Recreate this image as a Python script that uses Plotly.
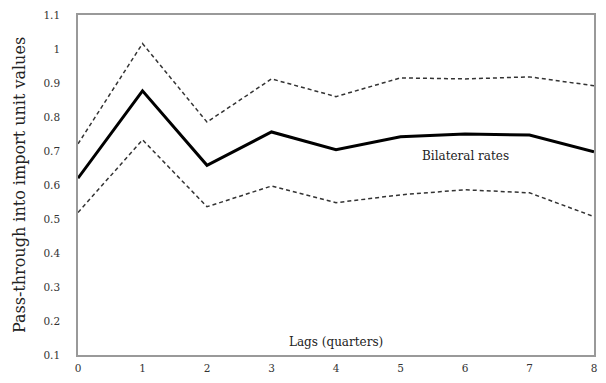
import plotly.graph_objects as go

lags = [0, 1, 2, 3, 4, 5, 6, 7, 8]
estimate = [0.62, 0.877, 0.658, 0.756, 0.704, 0.742, 0.75, 0.747, 0.698]
upper = [0.721, 1.016, 0.785, 0.912, 0.86, 0.915, 0.912, 0.918, 0.892]
lower = [0.519, 0.733, 0.536, 0.597, 0.548, 0.571, 0.586, 0.577, 0.507]
y_ticks = [0.1, 0.2, 0.3, 0.4, 0.5, 0.6, 0.7, 0.8, 0.9, 1.0, 1.1]
y_tick_text = ["0.1", "0.2", "0.3", "0.4", "0.5", "0.6", "0.7", "0.8", "0.9", "1", "1.1"]

font_family = "DejaVu Serif, Liberation Serif, serif"

fig = go.Figure()
fig.add_trace(go.Scatter(x=lags, y=upper, mode="lines",
                         line=dict(color="#333333", width=1.5, dash="4px,3px"), showlegend=False))
fig.add_trace(go.Scatter(x=lags, y=lower, mode="lines",
                         line=dict(color="#333333", width=1.5, dash="4px,3px"), showlegend=False))
fig.add_trace(go.Scatter(x=lags, y=estimate, mode="lines",
                         line=dict(color="#000000", width=3), showlegend=False))

fig.add_annotation(x=6, y=0.684, text="Bilateral rates", showarrow=False,
                   font=dict(family=font_family, size=12, color="#222222"))
fig.add_annotation(x=4, y=0.138, text="Lags (quarters)", showarrow=False,
                   font=dict(family=font_family, size=12, color="#222222"))

fig.update_layout(
    width=606, height=383,
    margin=dict(l=78, r=9, t=9, b=28),
    paper_bgcolor="white", plot_bgcolor="white",
    font=dict(family=font_family, color="#333333"),
)
fig.update_xaxes(range=[0, 8], tickvals=lags, showgrid=False, zeroline=False,
                 showline=True, linecolor="#999999", linewidth=1.5, mirror=True,
                 ticks="outside", ticklen=3, tickcolor="rgba(0,0,0,0)",
                 tickfont=dict(size=10.5, color="#333333"))
fig.update_yaxes(range=[0.1, 1.1], tickvals=y_ticks, ticktext=y_tick_text,
                 showgrid=False, zeroline=False,
                 showline=True, linecolor="#999999", linewidth=1.5, mirror=True,
                 ticks="outside", ticklen=14, tickcolor="rgba(0,0,0,0)",
                 tickfont=dict(size=10.5, color="#333333"),
                 title=dict(text="Pass-through into import unit values",
                            font=dict(size=16, color="#222222"), standoff=14))

fig.write_html("out.html")
